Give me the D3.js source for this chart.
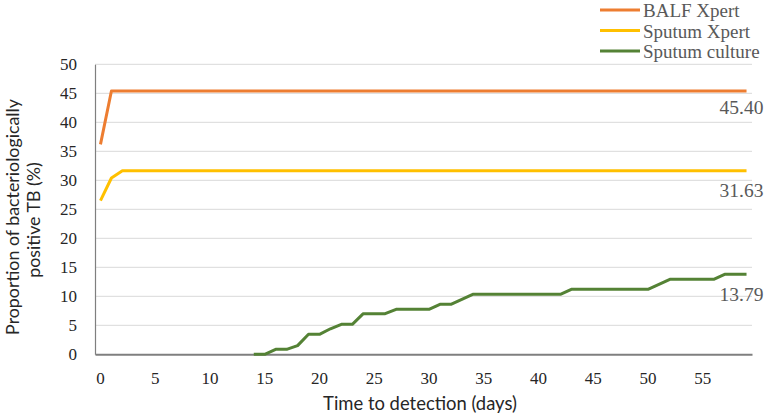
<!DOCTYPE html>
<html>
<head>
<meta charset="utf-8">
<script src="https://cdn.jsdelivr.net/npm/d3@7"></script>
<style>
  html, body { margin: 0; padding: 0; background: #ffffff; }
  svg { display: block; }
</style>
</head>
<body>
<svg id="chart" width="771" height="420"></svg>
<script>
// ---------- data ----------
const days = [0,1,2,3,4,5,6,7,8,9,10,11,12,13,14,15,16,17,18,19,20,21,22,23,24,25,26,27,28,29,
              30,31,32,33,34,35,36,37,38,39,40,41,42,43,44,45,46,47,48,49,50,51,52,53,54,55,56,57,58,59];
const xTickLabels = [0,5,10,15,20,25,30,35,40,45,50,55];
const yTickLabels = [0,5,10,15,20,25,30,35,40,45,50];
const seriesNames = ["BALF Xpert", "Sputum Xpert", "Sputum culture"];
const balfXpert = [36.2,45.4,45.4,45.4,45.4,45.4,45.4,45.4,45.4,45.4,45.4,45.4,45.4,45.4,45.4,45.4,45.4,45.4,45.4,45.4,
                   45.4,45.4,45.4,45.4,45.4,45.4,45.4,45.4,45.4,45.4,45.4,45.4,45.4,45.4,45.4,45.4,45.4,45.4,45.4,45.4,
                   45.4,45.4,45.4,45.4,45.4,45.4,45.4,45.4,45.4,45.4,45.4,45.4,45.4,45.4,45.4,45.4,45.4,45.4,45.4,45.4];
const sputumXpert = [26.5,30.4,31.63,31.63,31.63,31.63,31.63,31.63,31.63,31.63,31.63,31.63,31.63,31.63,31.63,31.63,31.63,31.63,31.63,31.63,
                     31.63,31.63,31.63,31.63,31.63,31.63,31.63,31.63,31.63,31.63,31.63,31.63,31.63,31.63,31.63,31.63,31.63,31.63,31.63,31.63,
                     31.63,31.63,31.63,31.63,31.63,31.63,31.63,31.63,31.63,31.63,31.63,31.63,31.63,31.63,31.63,31.63,31.63,31.63,31.63,31.63];
const sputumCulture = [null,null,null,null,null,null,null,null,null,null,null,null,null,null,0,0,0.86,0.86,1.5,3.45,
                       3.45,4.4,5.17,5.17,7.0,7.0,7.0,7.76,7.76,7.76,7.76,8.62,8.62,9.48,10.34,10.34,10.34,10.34,10.34,10.34,
                       10.34,10.34,10.34,11.21,11.21,11.21,11.21,11.21,11.21,11.21,11.21,12.07,12.93,12.93,12.93,12.93,12.93,13.79,13.79,13.79];
const endLabels = ["45.40", "31.63", "13.79"];
const colors = ["#ED7D31", "#FFC000", "#548235"];

// ---------- layout ----------
const svg = d3.select("#chart");
const plot = { left: 95, right: 752, top: 64.3, bottom: 354.3 };
const serif = "'Liberation Serif', 'Times New Roman', serif";
const sans = "Lato, 'Open Sans', sans-serif";

const x = d3.scaleBand().domain(days).range([plot.left, plot.right]).padding(0);
const y = d3.scaleLinear().domain([0, 50]).range([plot.bottom, plot.top]);
const cx = d => x(d) + x.bandwidth() / 2;

// gridlines
svg.append("g")
  .selectAll("line")
  .data(yTickLabels.filter(v => v > 0))
  .join("line")
  .attr("x1", plot.left).attr("x2", plot.right)
  .attr("y1", d => y(d)).attr("y2", d => y(d))
  .attr("stroke", "#D9D9D9").attr("stroke-width", 1);

// y axis
const yAxis = svg.append("g")
  .attr("transform", `translate(${plot.left},0)`)
  .call(d3.axisLeft(y).tickValues(yTickLabels).tickSize(0).tickPadding(18));
yAxis.select(".domain").attr("stroke", "#7F7F7F").attr("stroke-width", 1.2);
yAxis.selectAll("text")
  .attr("font-family", serif).attr("font-size", 17).attr("fill", "#262626");

// x axis
const xAxis = svg.append("g")
  .attr("transform", `translate(0,${plot.bottom})`)
  .call(d3.axisBottom(x).tickValues(xTickLabels).tickSize(0).tickPadding(18));
xAxis.select(".domain").attr("stroke", "#7F7F7F").attr("stroke-width", 2);
xAxis.selectAll("text")
  .attr("font-family", serif).attr("font-size", 17).attr("fill", "#262626");

// lines
const allSeries = [balfXpert, sputumXpert, sputumCulture];
const line = d3.line()
  .defined(d => d[1] !== null)
  .x(d => cx(d[0]))
  .y(d => y(d[1]));

allSeries.forEach((vals, i) => {
  svg.append("path")
    .datum(days.map((d, j) => [d, vals[j]]))
    .attr("fill", "none")
    .attr("stroke", colors[i])
    .attr("stroke-width", 3)
    .attr("stroke-linejoin", "round")
    .attr("d", line);
});

// end labels
const labelOffsets = [15.7, 19, 19.5];
allSeries.forEach((vals, i) => {
  const last = days[days.length - 1];
  svg.append("text")
    .attr("x", cx(last) - 5)
    .attr("y", y(vals[vals.length - 1]) + labelOffsets[i])
    .attr("dy", "0.35em")
    .attr("text-anchor", "middle")
    .attr("font-family", serif)
    .attr("font-size", 19.5)
    .attr("fill", "#595959")
    .text(endLabels[i]);
});

// legend
const legend = svg.append("g");
seriesNames.forEach((name, i) => {
  const ly = 10 + i * 20.5;
  legend.append("line")
    .attr("x1", 600).attr("x2", 640)
    .attr("y1", ly).attr("y2", ly)
    .attr("stroke", colors[i]).attr("stroke-width", 3);
  legend.append("text")
    .attr("x", 643).attr("y", ly + 7)
    .attr("font-family", serif).attr("font-size", 19)
    .attr("fill", "#595959")
    .text(name);
});

// axis titles (scaled to the reference's text widths)
function fitText(sel, target) {
  const w = sel.node().getComputedTextLength();
  const fs = parseFloat(sel.attr("font-size"));
  sel.attr("font-size", fs * target / w);
}

const xt = svg.append("text")
  .attr("x", 420).attr("y", 410)
  .attr("text-anchor", "middle")
  .attr("font-family", sans).attr("font-size", 18)
  .attr("fill", "#262626")
  .text("Time to detection (days)");
fitText(xt, 194);

const yt1 = svg.append("text")
  .attr("transform", "translate(18.5,217) rotate(-90)")
  .attr("text-anchor", "middle")
  .attr("font-family", sans).attr("font-size", 18)
  .attr("fill", "#262626")
  .text("Proportion of bacteriologically");
fitText(yt1, 236);
const yt2 = svg.append("text")
  .attr("transform", "translate(40,220) rotate(-90)")
  .attr("text-anchor", "middle")
  .attr("font-family", sans).attr("font-size", 18)
  .attr("fill", "#262626")
  .text("positive TB (%)");
yt2.attr("font-size", yt1.attr("font-size"));
</script>
</body>
</html>
